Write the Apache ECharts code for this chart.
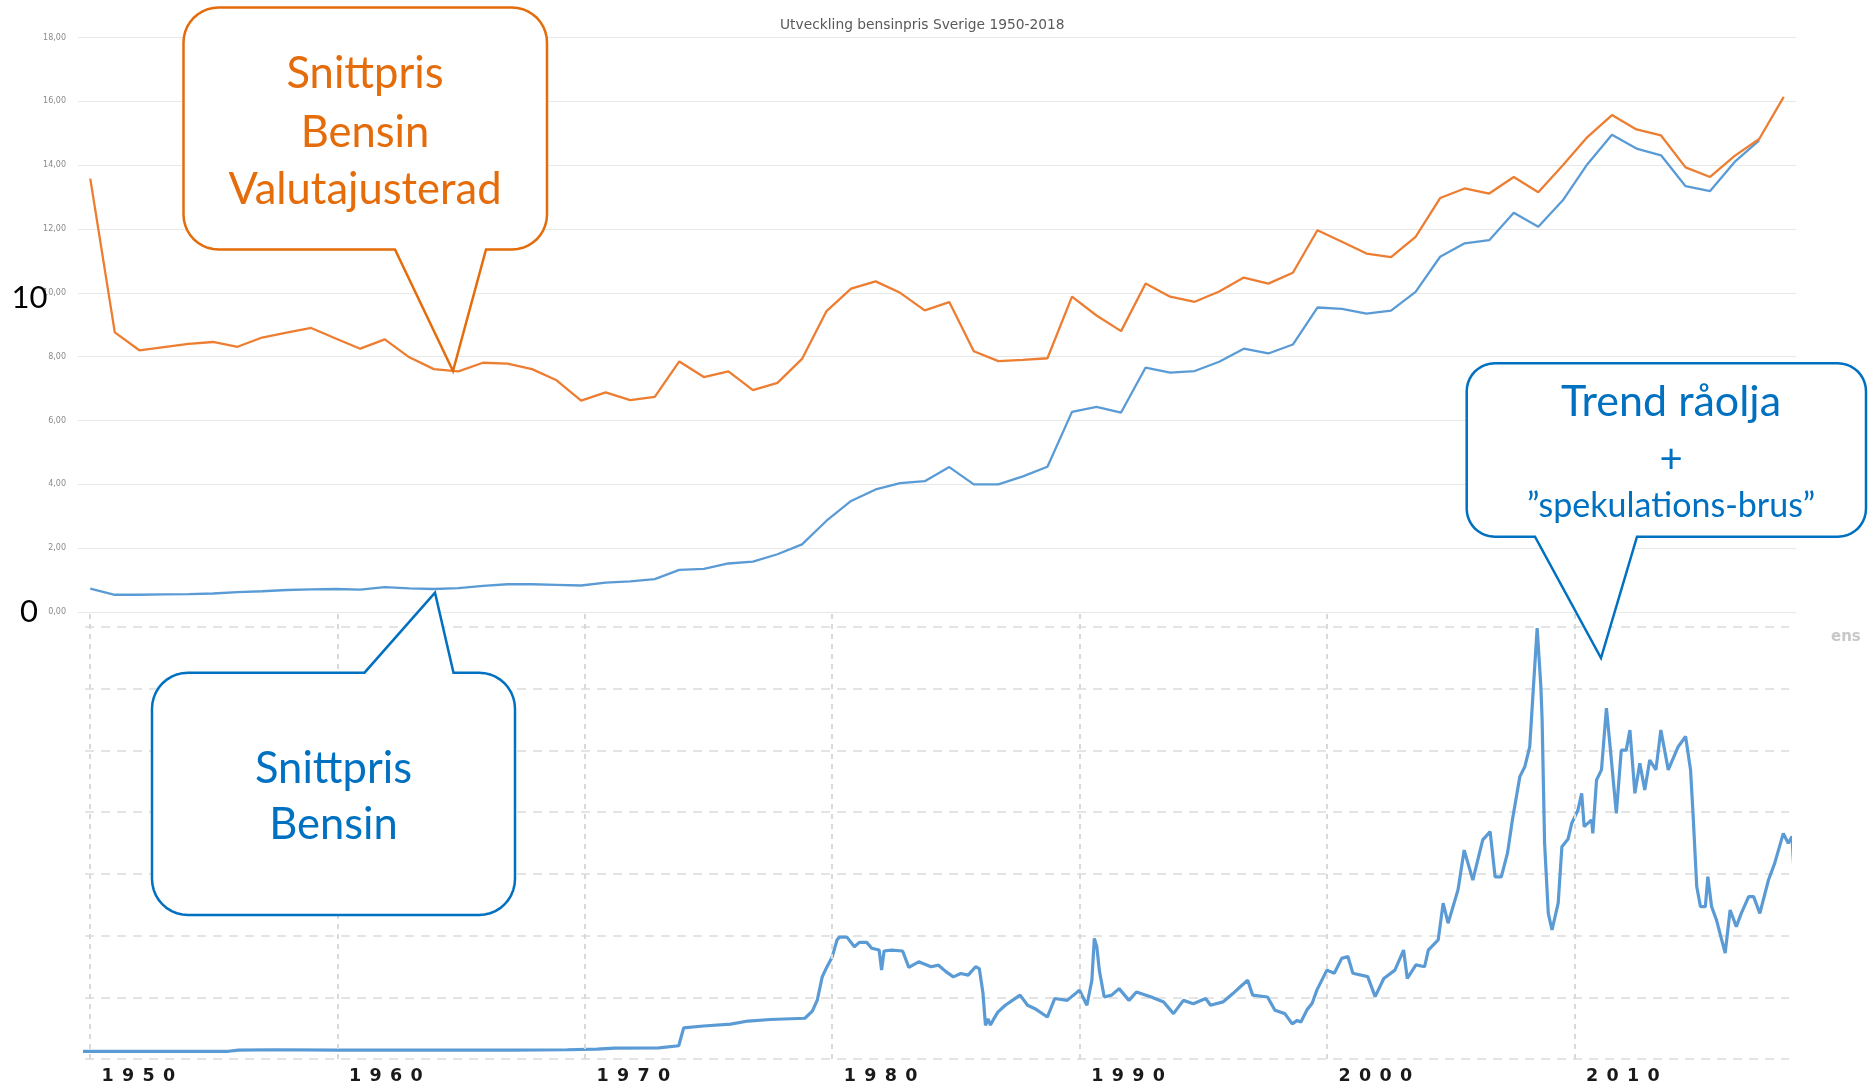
<!DOCTYPE html>
<html>
<head>
<meta charset="utf-8">
<title>Utveckling bensinpris Sverige 1950-2018</title>
<script src="https://cdn.jsdelivr.net/npm/echarts@6.0.0/dist/echarts.min.js"></script>
<style>
  html, body { margin: 0; padding: 0; background: #fff; }
  #chart { width: 1868px; height: 1085px; }
</style>
</head>
<body>
<div id="chart"></div>
<script>
// arsmedel bensinpris (kr/liter)
const years = [
  '1950','1951','1952','1953','1954','1955','1956','1957','1958','1959',
  '1960','1961','1962','1963','1964','1965','1966','1967','1968','1969',
  '1970','1971','1972','1973','1974','1975','1976','1977','1978','1979',
  '1980','1981','1982','1983','1984','1985','1986','1987','1988','1989',
  '1990','1991','1992','1993','1994','1995','1996','1997','1998','1999',
  '2000','2001','2002','2003','2004','2005','2006','2007','2008','2009',
  '2010','2011','2012','2013','2014','2015','2016','2017','2018','2019'
];
const snittpris = [
  0.73, 0.54, 0.54, 0.55, 0.56, 0.58, 0.62, 0.65, 0.69, 0.71,
  0.72, 0.70, 0.78, 0.74, 0.72, 0.75, 0.82, 0.87, 0.87, 0.85,
  0.83, 0.92, 0.96, 1.03, 1.32, 1.35, 1.52, 1.58, 1.81, 2.12,
  2.86, 3.48, 3.84, 4.04, 4.10, 4.54, 4.00, 4.00, 4.25, 4.55,
  6.27, 6.43, 6.25, 7.66, 7.50, 7.55, 7.84, 8.25, 8.10, 8.38,
  9.54, 9.50, 9.35, 9.44, 10.03, 11.13, 11.55, 11.65, 12.51, 12.07,
  12.90, 14.03, 14.95, 14.52, 14.31, 13.34, 13.19, 14.10, 14.78, null
];
const valutajusterad = [
  13.58, 8.76, 8.20, 8.30, 8.40, 8.46, 8.31, 8.60, 8.75, 8.90,
  8.57, 8.25, 8.54, 7.98, 7.61, 7.54, 7.81, 7.78, 7.61, 7.26,
  6.62, 6.88, 6.64, 6.74, 7.85, 7.36, 7.54, 6.95, 7.18, 7.93,
  9.43, 10.13, 10.36, 10.00, 9.45, 9.71, 8.17, 7.86, 7.90, 7.95,
  9.88, 9.29, 8.80, 10.29, 9.88, 9.72, 10.04, 10.48, 10.29, 10.63,
  11.96, 11.60, 11.23, 11.12, 11.75, 12.97, 13.27, 13.11, 13.63, 13.15,
  14.00, 14.88, 15.57, 15.12, 14.93, 13.93, 13.63, 14.29, 14.82, 16.14
];

// raolja (USD/fat), avlast ur bilden
const oilDate = [
  1949.4, 1952.0, 1955.6, 1956.0, 1957.5, 1960.0, 1964.0, 1967.0, 1969.3, 1970.5,
  1971.2, 1973.0, 1973.8, 1974.0, 1974.8, 1975.9, 1976.6, 1977.5, 1978.9, 1979.2,
  1979.4, 1979.6, 1979.8, 1980.0, 1980.2, 1980.3, 1980.6, 1980.9, 1981.1, 1981.4,
  1981.6, 1981.9, 1982.0, 1982.1, 1982.4, 1982.85, 1983.1, 1983.5, 1984.0, 1984.3,
  1984.6, 1984.9, 1985.2, 1985.5, 1985.8, 1985.95, 1986.1, 1986.2, 1986.3, 1986.4,
  1986.5, 1986.7, 1987.0, 1987.2, 1987.6, 1987.9, 1988.2, 1988.7, 1989.0, 1989.5,
  1990.0, 1990.3, 1990.5, 1990.6, 1990.7, 1990.8, 1991.0, 1991.3, 1991.6, 1992.0,
  1992.3, 1992.9, 1993.4, 1993.8, 1994.2, 1994.6, 1995.1, 1995.3, 1995.8, 1996.2,
  1996.5, 1996.8, 1997.0, 1997.6, 1997.9, 1998.3, 1998.6, 1998.8, 1998.95, 1999.2,
  1999.4, 1999.6, 2000.0, 2000.3, 2000.6, 2000.85, 2001.05, 2001.65, 2001.95, 2002.3,
  2002.75, 2003.1, 2003.25, 2003.6, 2003.95, 2004.1, 2004.5, 2004.7, 2004.9, 2005.3,
  2005.55, 2005.9, 2006.3, 2006.6, 2006.8, 2007.05, 2007.3, 2007.5, 2007.8, 2008.0,
  2008.2, 2008.35, 2008.5, 2008.65, 2008.7, 2008.8, 2008.95, 2009.1, 2009.35, 2009.5,
  2009.75, 2009.9, 2010.15, 2010.3, 2010.4, 2010.7, 2010.75, 2010.9, 2011.1, 2011.3,
  2011.45, 2011.7, 2011.9, 2012.1, 2012.25, 2012.45, 2012.65, 2012.85, 2013.05, 2013.3,
  2013.5, 2013.8, 2014.2, 2014.5, 2014.7, 2014.8, 2014.95, 2015.1, 2015.3, 2015.4,
  2015.55, 2015.75, 2016.1, 2016.3, 2016.55, 2016.75, 2017.05, 2017.25, 2017.5, 2017.85,
  2018.1, 2018.45, 2018.65, 2018.8, 2018.95
];
const oilPrice = [
  2.5, 2.5, 2.5, 2.9, 3.0, 2.9, 2.9, 2.9, 3.0, 3.2,
  3.5, 3.6, 4.3, 10.1, 10.7, 11.3, 12.3, 12.8, 13.2, 15.5,
  19.1, 26.6, 30.0, 33.0, 38.6, 39.5, 39.5, 36.4, 37.8, 37.8,
  35.9, 35.3, 28.8, 35.0, 35.3, 35.0, 29.7, 31.5, 29.9, 30.4,
  28.3, 26.6, 27.7, 27.2, 29.9, 29.3, 21.2, 10.9, 13.0, 11.0,
  12.5, 15.2, 17.4, 18.5, 20.7, 17.4, 16.3, 13.6, 19.6, 19.0,
  22.3, 17.4, 25.5, 39.1, 36.4, 28.8, 20.1, 20.7, 22.8, 19.0,
  21.7, 20.1, 18.5, 14.7, 19.0, 17.9, 19.6, 17.4, 18.5, 21.2,
  23.4, 25.5, 20.7, 20.1, 15.8, 14.7, 11.4, 12.5, 12.0, 16.0,
  18.0, 22.4, 28.8, 27.8, 32.6, 33.2, 27.8, 26.7, 20.2, 26.1,
  28.8, 35.3, 26.1, 30.5, 29.9, 35.3, 38.6, 50.5, 44.0, 54.8,
  67.7, 58.0, 71.0, 73.7, 59.0, 59.0, 66.7, 77.5, 91.5, 94.7,
  101.2, 120.7, 139.6, 120.7, 110.0, 70.0, 47.2, 41.8, 50.5, 68.8,
  71.3, 76.4, 80.7, 86.1, 75.3, 77.5, 73.1, 90.4, 93.7, 113.7,
  101.2, 79.6, 100.1, 100.1, 106.6, 86.1, 95.8, 87.2, 96.9, 93.7,
  106.6, 93.7, 101.2, 104.5, 93.7, 79.6, 55.9, 49.4, 49.4, 59.1,
  49.4, 45.0, 34.3, 48.3, 42.9, 47.2, 52.6, 52.6, 47.2, 58.0,
  63.4, 73.1, 69.9, 72.1, 51.5
];
const decades = [1950, 1960, 1970, 1980, 1990, 2000, 2010];

const oilData = oilDate.map((d, i) => [d, oilPrice[i]]);

// hornbage som punkter
function corner(pts, cx, cy, r, a0, a1) {
  for (let k = 0; k <= 10; k++) {
    const a = a0 + (a1 - a0) * k / 10;
    pts.push([cx + r * Math.cos(a), cy + r * Math.sin(a)]);
  }
}

// pratbubbla: rundad ruta med spets uppat eller nedat
function bubble(x0, y0, x1, y1, r, bx0, bx1, tx, ty, side) {
  const P = Math.PI;
  const pts = [];
  corner(pts, x0 + r, y0 + r, r, P, 1.5 * P);
  if (side === 'top') pts.push([bx0, y0], [tx, ty], [bx1, y0]);
  corner(pts, x1 - r, y0 + r, r, 1.5 * P, 2 * P);
  corner(pts, x1 - r, y1 - r, r, 0, 0.5 * P);
  if (side === 'bottom') pts.push([bx1, y1], [tx, ty], [bx0, y1]);
  corner(pts, x0 + r, y1 - r, r, 0.5 * P, P);
  return pts;
}

function txt(text, x, y, size, color) {
  return {
    type: 'text', x: x, y: y, z: 101,
    style: { text: text, fill: color, font: size + 'px Lato', align: 'center', verticalAlign: 'middle' }
  };
}

const ORANGE = '#E46C0A';
const BLUE = '#0070C0';

const option = {
  backgroundColor: '#fff',
  animation: false,
  title: {
    text: 'Utveckling bensinpris Sverige 1950-2018',
    left: 775,
    top: 13,
    textStyle: { fontFamily: 'DejaVu Sans', fontSize: 13.8, fontWeight: 'normal', color: '#595959' }
  },
  grid: [
    { left: 78, width: 1718, top: 37.5, height: 574.5 },
    { left: 85, width: 1704, top: 610, height: 449 }
  ],
  xAxis: [
    {
      type: 'category', gridIndex: 0, data: years, boundaryGap: true,
      axisLine: { show: false }, axisTick: { show: false }, axisLabel: { show: false }
    },
    {
      type: 'value', gridIndex: 1, min: 1949.8, max: 2018.68,
      axisLine: { show: false }, axisTick: { show: false }, splitLine: { show: false },
      axisLabel: {
        customValues: decades,
        margin: 8,
        padding: [0, 0, 0, 97],
        formatter: function (v) {
          return String(v).split('').map(function (c) { return '{d|' + c + '}'; }).join('');
        },
        rich: {
          d: { width: 20.5, align: 'center', fontFamily: 'DejaVu Sans', fontWeight: 'bold', fontSize: 17.5, color: '#1a1a1a' }
        }
      }
    }
  ],
  yAxis: [
    {
      type: 'value', gridIndex: 0, min: 0, max: 18, interval: 2,
      axisLine: { show: false }, axisTick: { show: false },
      axisLabel: {
        margin: 12, fontSize: 8, fontFamily: 'DejaVu Sans', color: '#8a8a8a',
        formatter: function (v) { return v.toFixed(2).replace('.', ','); }
      },
      splitLine: { lineStyle: { color: '#e8e8e8', width: 1 } }
    },
    {
      type: 'value', gridIndex: 1, min: 0, max: 145.5, interval: 20,
      axisLine: { show: false }, axisTick: { show: false }, axisLabel: { show: false },
      splitLine: { showMaxLine: false, lineStyle: { color: '#dcdcdc', width: 1.5, type: [9, 7] } }
    }
  ],
  series: [
    {
      name: 'Snittpris bensin', type: 'line', xAxisIndex: 0, yAxisIndex: 0,
      data: snittpris, symbol: 'none',
      lineStyle: { color: '#5B9BD5', width: 2.3 }
    },
    {
      name: 'Valutajusterad', type: 'line', xAxisIndex: 0, yAxisIndex: 0,
      data: valutajusterad, symbol: 'none',
      lineStyle: { color: '#ED7D31', width: 2.3 }
    },
    {
      name: 'Raolja', type: 'line', xAxisIndex: 1, yAxisIndex: 1,
      data: oilData, symbol: 'none', clip: false,
      lineStyle: { color: '#5B9BD5', width: 3.2 },
      markLine: {
        silent: true, symbol: 'none', label: { show: false },
        lineStyle: { color: '#d9d9d9', width: 2, type: [5, 5] },
        data: decades.map(function (d) { return { xAxis: d }; })
      }
    }
  ],
  graphic: [
    { type: 'polygon', z: 100, shape: { points: bubble(183.5, 7.5, 547, 249.5, 35, 395, 486, 453, 371, 'bottom') },
      style: { fill: '#fff', stroke: ORANGE, lineWidth: 2.5 } },
    txt('Snittpris', 365, 74, 43.5, ORANGE),
    txt('Bensin', 365, 132.5, 43.5, ORANGE),
    txt('Valutajusterad', 365, 189.5, 43.5, ORANGE),

    { type: 'polygon', z: 100, shape: { points: bubble(152, 672.7, 515, 915, 36, 364.5, 453.5, 435, 592.7, 'top') },
      style: { fill: '#fff', stroke: BLUE, lineWidth: 2.5 } },
    txt('Snittpris', 333.5, 769, 43.5, BLUE),
    txt('Bensin', 333.5, 825, 43.5, BLUE),

    { type: 'polygon', z: 100, shape: { points: bubble(1466.7, 363.3, 1866, 536.7, 28, 1535, 1637, 1601, 658, 'bottom') },
      style: { fill: '#fff', stroke: BLUE, lineWidth: 2.5 } },
    txt('Trend råolja', 1671, 402.5, 43, BLUE),
    txt('+', 1671, 460, 40, BLUE),
    txt('\u201Dspekulations-brus\u201D', 1671, 506, 34, BLUE),

    txt('10', 29.5, 298, 31, '#000'),
    txt('0', 29, 612, 31, '#000'),
    { type: 'text', x: 1831, y: 637, z: 101,
      style: { text: 'ens', fill: '#c8c8c8', font: 'bold 15px DejaVu Sans', verticalAlign: 'middle' } }
  ]
};

const myChart = echarts.init(document.getElementById('chart'));
myChart.setOption(option);

window.addEventListener('resize', function () {
  myChart.resize();
});
</script>
</body>
</html>
